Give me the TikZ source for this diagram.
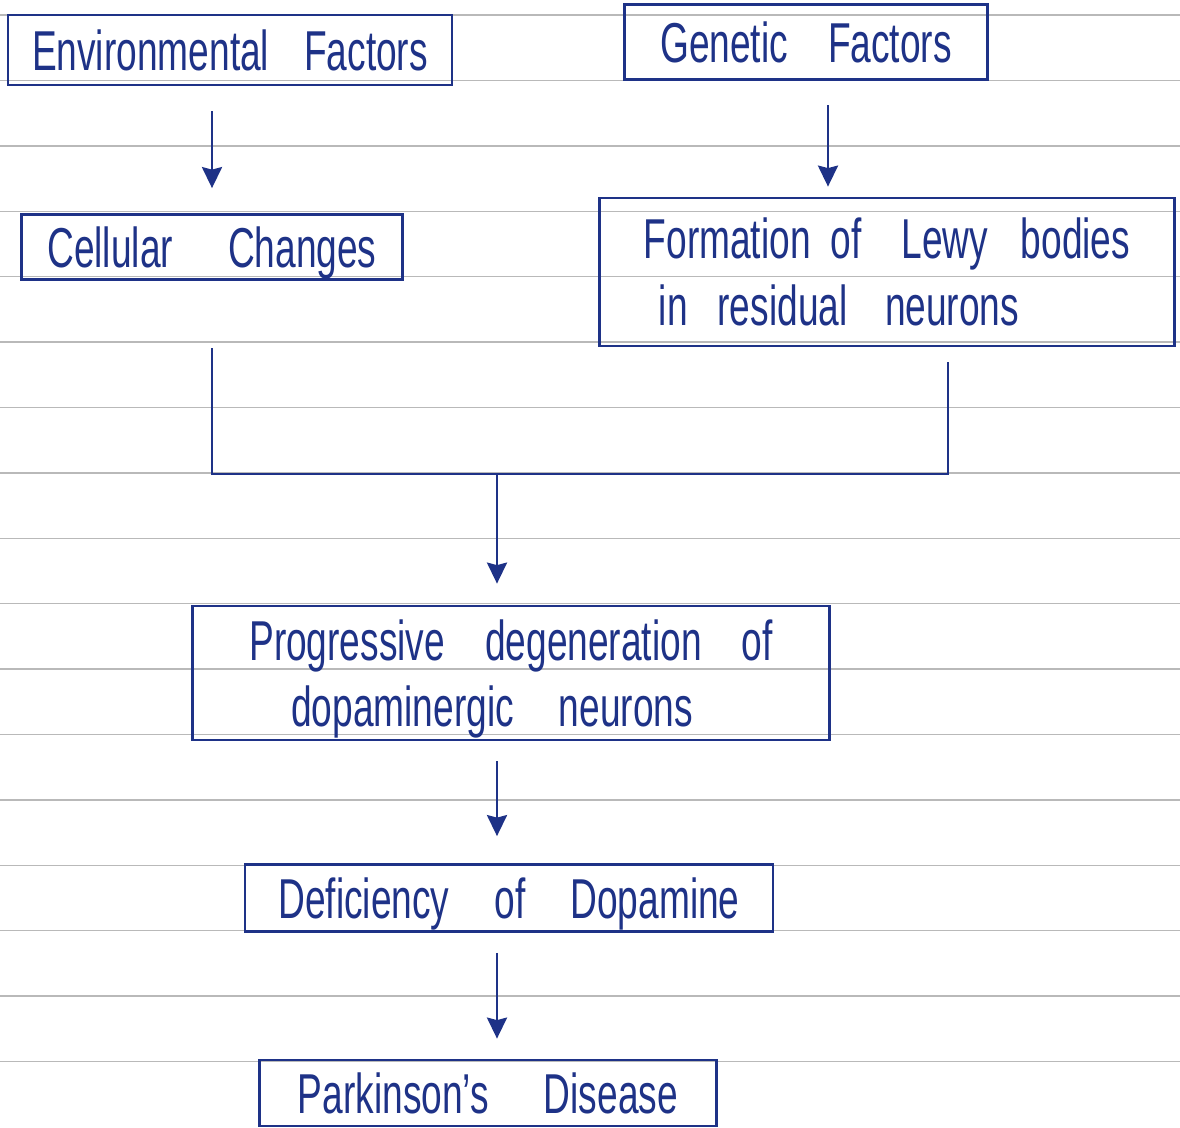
\documentclass[tikz,border=0pt]{standalone}
\usepackage{fontspec}
\setmainfont{Liberation Sans}[FakeStretch=0.66]
\usetikzlibrary{arrows.meta}
\definecolor{ink}{HTML}{1E3287}
\newcommand\gap[1]{\hspace{#1cm}}
\tikzset{
  box/.style={draw=ink, line width=1.6pt, text=ink, inner sep=0pt,
    text depth=0pt, font=\fontsize{32}{38}\selectfont},
  arr/.style={draw=ink, line width=1.6pt,
    -{Stealth[length=0.42cm,width=0.4cm,inset=0.05cm]}},
  wire/.style={draw=ink, line width=1.6pt},
  rule/.style={draw=gray!55, line width=0.8pt}
}
\begin{document}
\begin{tikzpicture}[x=0.02cm,y=-0.02cm]
      \useasboundingbox (0,0) rectangle (1180,1127);
      % ruled paper
      \foreach \k in {0,...,16}
        \draw[rule] (0,{15+65.4*\k}) -- (1180,{15+65.4*\k});
      \draw
        (230,50) node[box, minimum width=8.88cm, minimum height=1.4cm] (env){Environmental\gap{0.7}Factors}
        (806,42) node[box, minimum width=7.26cm, minimum height=1.5cm] (gen){Genetic\gap{0.8}Factors}
        (212,247) node[box, minimum width=7.62cm, minimum height=1.3cm] (cell){Cellular\gap{1.1}Changes}
        (887,272) node[box, minimum width=11.5cm, minimum height=2.96cm, align=left] (lewy){Formation\gap{0.4}of\gap{0.8}Lewy\gap{0.65}bodies\\\hspace*{0.3cm}in\gap{0.6}residual\gap{0.75}neurons}
        (511,673) node[box, minimum width=12.74cm, minimum height=2.68cm, align=left] (prog){Progressive\gap{0.8}degeneration\gap{0.8}of\\\hspace*{0.84cm}dopaminergic\gap{0.9}neurons}
        (509,898) node[box, minimum width=10.56cm, minimum height=1.34cm] (def){Deficiency\gap{0.9}of\gap{0.9}Dopamine}
        (488,1093) node[box, minimum width=9.14cm, minimum height=1.32cm] (park){Parkinson's\gap{1.1}Disease};
      \coordinate (gl) at (828,105);
      \coordinate (jl) at (212,348);
      \coordinate (jr) at (948,362);
      \coordinate (jm) at (497,474);
      \begin{scope}
        \draw[arr] ([yshift=-0.5cm]env.south -| cell.north) -- ([yshift=0.5cm]cell.north);
        \draw[arr] (gl) -- ([yshift=0.2cm]gl |- lewy.north);
        \draw[wire] (jl) |- (jm) -| (jr);
        \draw[arr] (jm) -- ([yshift=0.42cm]prog.north -| jm);
        \draw[arr] ([yshift=-0.4cm]prog.south -| jm) -- ([yshift=0.54cm]def.north -| jm);
        \draw[arr] ([yshift=-0.4cm]def.south -| jm) -- ([yshift=0.4cm]park.north -| jm);
      \end{scope}
    \end{tikzpicture}
\end{document}
